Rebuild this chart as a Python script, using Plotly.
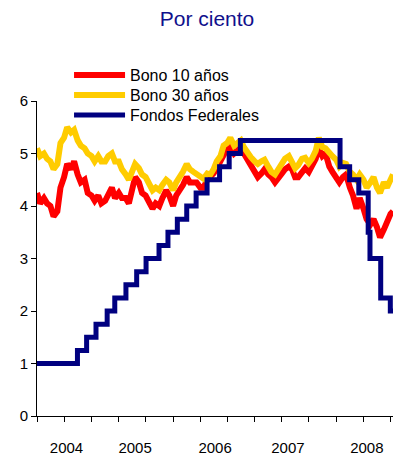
import plotly.graph_objects as go

# ---- data ----
bond_dates = [
    "2004-01-01","2004-01-15","2004-02-01","2004-02-15","2004-03-01","2004-03-15","2004-04-01","2004-04-15",
    "2004-05-01","2004-05-15","2004-06-01","2004-06-15","2004-07-01","2004-07-15","2004-08-01","2004-08-15",
    "2004-09-01","2004-09-15","2004-10-01","2004-10-15","2004-11-01","2004-11-15","2004-12-01","2004-12-15",
    "2005-01-01","2005-01-15","2005-02-01","2005-02-15","2005-03-01","2005-03-15","2005-04-01","2005-04-15",
    "2005-05-01","2005-05-15","2005-06-01","2005-06-15","2005-07-01","2005-07-15","2005-08-01","2005-08-15",
    "2005-09-01","2005-09-15","2005-10-01","2005-10-15","2005-11-01","2005-11-15","2005-12-01","2005-12-15",
    "2006-01-01","2006-01-15","2006-02-01","2006-02-15","2006-03-01","2006-03-15","2006-04-01","2006-04-15",
    "2006-05-01","2006-05-15","2006-06-01","2006-06-15","2006-07-01","2006-07-15","2006-08-01","2006-08-15",
    "2006-09-01","2006-09-15","2006-10-01","2006-10-15","2006-11-01","2006-11-15","2006-12-01","2006-12-15",
    "2007-01-01","2007-01-15","2007-02-01","2007-02-15","2007-03-01","2007-03-15","2007-04-01","2007-04-15",
    "2007-05-01","2007-05-15","2007-06-01","2007-06-15","2007-07-01","2007-07-15","2007-08-01","2007-08-15",
    "2007-09-01","2007-09-15","2007-10-01","2007-10-15","2007-11-01","2007-11-15","2007-12-01","2007-12-15",
    "2008-01-01","2008-01-15","2008-02-01","2008-02-15","2008-03-01","2008-03-15","2008-04-01","2008-04-15",
    "2008-05-01","2008-05-12",
]

bono_10 = [
    4.25,4.05,4.15,4.05,4.00,3.80,3.90,4.35, 4.55,4.80,4.70,4.85,4.60,4.45,4.50,4.25,
    4.20,4.10,4.20,4.05,4.10,4.20,4.35,4.15, 4.25,4.15,4.15,4.05,4.35,4.55,4.45,4.25,
    4.20,4.10,3.95,4.05,4.00,4.15,4.30,4.20, 4.00,4.20,4.30,4.40,4.55,4.45,4.45,4.45,
    4.35,4.35,4.50,4.55,4.62,4.72,4.85,5.00, 5.10,5.13,5.00,5.05,5.13,5.00,4.88,4.80,
    4.70,4.55,4.62,4.70,4.60,4.55,4.45,4.55, 4.62,4.70,4.75,4.70,4.55,4.55,4.65,4.72,
    4.65,4.75,4.90,5.10,4.95,5.00,4.75,4.65, 4.55,4.45,4.55,4.60,4.35,4.20,3.95,4.15,
    3.95,3.75,3.65,3.75,3.60,3.40,3.55,3.70, 3.85,3.90,
]

bono_30 = [
    5.10,4.95,5.00,4.90,4.85,4.70,4.80,5.20, 5.30,5.50,5.40,5.45,5.25,5.15,5.10,5.00,
    4.95,4.85,4.95,4.85,4.85,4.95,5.00,4.85, 4.85,4.70,4.60,4.50,4.65,4.80,4.72,4.60,
    4.55,4.45,4.30,4.35,4.30,4.40,4.50,4.45, 4.30,4.45,4.55,4.65,4.80,4.70,4.65,4.60,
    4.55,4.52,4.62,4.60,4.70,4.85,4.95,5.15, 5.20,5.30,5.15,5.20,5.25,5.12,5.00,4.93,
    4.85,4.80,4.85,4.88,4.75,4.65,4.60,4.70, 4.78,4.90,4.95,4.80,4.72,4.78,4.90,4.92,
    4.82,4.90,5.05,5.30,5.12,5.10,5.00,4.95, 4.88,4.75,4.82,4.80,4.65,4.60,4.50,4.60,
    4.50,4.35,4.45,4.55,4.35,4.25,4.45,4.35, 4.50,4.60,
]

fed_dates = [
    "2004-01-01","2004-06-30","2004-08-10","2004-09-21","2004-11-10","2004-12-14",
    "2005-02-02","2005-03-22","2005-05-03","2005-06-30","2005-08-09","2005-09-20",
    "2005-11-01","2005-12-13","2006-01-31","2006-03-28","2006-05-10","2006-06-29",
    "2007-09-18","2007-10-31","2007-12-11","2008-01-22","2008-01-30","2008-03-18",
    "2008-04-30","2008-05-12",
]
fondos_federales = [
    1.00,1.25,1.50,1.75,2.00,2.25,
    2.50,2.75,3.00,3.25,3.50,3.75,
    4.00,4.25,4.50,4.75,5.00,5.25,
    4.75,4.50,4.25,3.50,3.00,2.25,
    2.00,2.00,
]

year_labels = ["2004", "2005", "2006", "2007", "2008"]
year_label_pos = ["2004-05-12", "2005-03-15", "2006-03-08", "2007-01-28", "2008-01-16"]
y_ticks = [0, 1, 2, 3, 4, 5, 6]

FONT = "Liberation Sans, Arial, sans-serif"

fig = go.Figure()
fig.add_trace(go.Scatter(x=bond_dates, y=bono_10, mode="lines", name="Bono 10 años",
                         line=dict(color="#FF0000", width=6), legend="legend"))
fig.add_trace(go.Scatter(x=bond_dates, y=bono_30, mode="lines", name="Bono 30 años",
                         line=dict(color="#FFCC00", width=6), legend="legend2"))
fig.add_trace(go.Scatter(x=fed_dates, y=fondos_federales, mode="lines", name="Fondos Federales",
                         line=dict(color="#000080", width=5, shape="hv"), legend="legend3"))

leg_common = dict(x=0.09, xanchor="left", yanchor="middle", bgcolor="rgba(0,0,0,0)",
                  font=dict(family=FONT, size=16, color="black"), itemwidth=51)

fig.update_layout(
    width=393, height=455,
    margin=dict(l=37, r=0, t=101, b=39),
    paper_bgcolor="white", plot_bgcolor="white",
    font=dict(family=FONT, size=15, color="black"),
    title=dict(text="Por ciento", x=207/393, xanchor="center", xref="container",
               y=1 - 19/455, yanchor="middle", yref="container",
               font=dict(family=FONT, size=21, color="#10108C")),
    showlegend=True,
    legend=dict(y=(416 - 75) / 315, **leg_common),
    legend2=dict(y=(416 - 95) / 315, **leg_common),
    legend3=dict(y=(416 - 115) / 315, **leg_common),
    xaxis=dict(
        type="date", range=["2004-01-01", "2008-05-12"],
        showgrid=False, zeroline=False, showline=True, linecolor="black", linewidth=1,
        tickmode="array", tickvals=year_label_pos, ticktext=year_labels, ticks="",
        ticklabelstandoff=18, tickfont=dict(family=FONT, size=15, color="black"),
        minor=dict(tickmode="linear", tick0="2004-01-01", dtick="M4", ticks="outside",
                   ticklen=5, tickwidth=1, tickcolor="black", showgrid=False),
    ),
    yaxis=dict(
        range=[0, 6], tickmode="array", tickvals=y_ticks,
        showgrid=False, zeroline=False, showline=True, linecolor="black", linewidth=1,
        ticks="outside", ticklen=5, tickwidth=1, tickcolor="black",
        tickfont=dict(family=FONT, size=15, color="black"),
    ),
)

fig.write_html("out.html", config={"displayModeBar": False},
               post_script="document.body.style.margin='0';")
